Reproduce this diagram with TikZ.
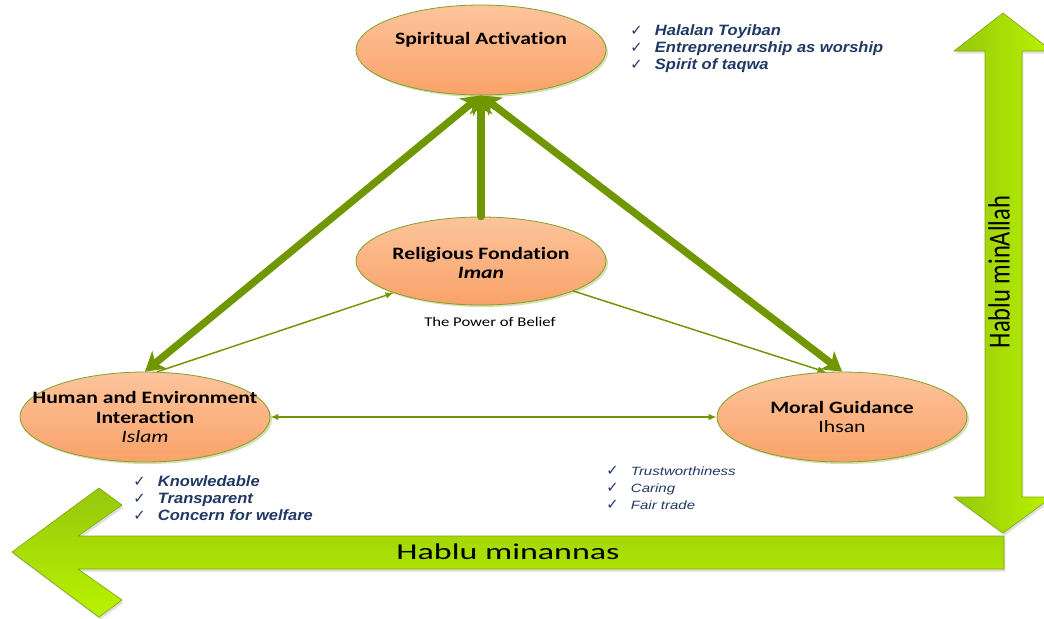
\documentclass[tikz,border=0pt]{standalone}
\usepackage{fontspec}
\setmainfont{Carlito}
\newfontfamily\widefont[FakeStretch=1.25,RawFeature=-liga]{Carlito}
\newfontfamily\bandfont[FakeStretch=1.5]{Carlito}
\newfontfamily\tallfont[FakeStretch=0.8]{Carlito}
\newfontfamily\listfont[FakeStretch=1.1]{Liberation Sans}
\newfontfamily\notefont[FakeStretch=1.25]{Liberation Sans}
\newfontfamily\tickfont{DejaVu Sans}
\usetikzlibrary{shapes.geometric,arrows.meta,shadows}
\definecolor{peachtop}{RGB}{253,196,156}
\definecolor{peachbot}{RGB}{249,162,104}
\definecolor{olivegreen}{RGB}{112,150,0}
\definecolor{blobedge}{RGB}{128,160,40}
\definecolor{limedark}{RGB}{150,200,12}
\definecolor{limelight}{RGB}{186,242,0}
\definecolor{limeedge}{RGB}{128,170,0}
\definecolor{navy}{RGB}{31,56,100}
\newcommand\chk{\makebox[18.5pt][l]{\tickfont\fontsize{11}{10}\selectfont ✓}}
\begin{document}
\begin{tikzpicture}[x=.75pt,y=-.75pt,line join=round,line cap=round,
		blob/.style={ellipse,draw=blobedge,line width=.6pt,top color=peachtop,bottom color=peachbot,inner sep=0pt,minimum width=187.5pt,minimum height=67.5pt,drop shadow={shadow xshift=1.5pt,shadow yshift=-1.5pt,fill=olivegreen,opacity=.3}},
		blobtext/.style={align=center,inner sep=0pt,font=\widefont\bfseries\fontsize{13}{14.6}\selectfont},
		listnote/.style={align=left,inner sep=0pt,anchor=west,text=navy,font=\listfont\bfseries\itshape\fontsize{11.25}{12.75}\selectfont},
		plainnote/.style={align=left,inner sep=0pt,anchor=west,text=navy,font=\notefont\itshape\fontsize{9}{12.75}\selectfont},
		bigarrow/.style={draw=limeedge,line width=.5pt,drop shadow={shadow xshift=1pt,shadow yshift=-2pt,opacity=.25}},
		heavy/.style={draw=olivegreen,line width=5.5pt,>={Stealth[length=14pt,width=17pt,inset=4pt]}},
		slim/.style={draw=olivegreen,line width=1.1pt,>={Latex[length=6pt,width=5pt]}}]
	\useasboundingbox (0,0) rectangle (1044,618);
	\shade[bigarrow,top color=limedark,bottom color=limelight]
	(12,552) -- (99,488) -- (122,505) -- (78,536) -- (1004,536) -- (1004,569) -- (78,569) -- (122,600) -- (99,617) -- cycle;
	\shade[bigarrow,left color=limedark,right color=limelight]
	(1003,13) -- (1052,51) -- (1022,51) -- (1022,497) -- (1052,497) -- (1003,533) -- (954,497) -- (985,497) -- (985,51) -- (954,51) -- cycle;
	\node[font=\bandfont\fontsize{17}{20}\selectfont] (minannas) at (508,552) {Hablu minannas};
	\node[rotate=90,font=\tallfont\fontsize{23}{26}\selectfont] (minallah) at (999,272) {Hablu minAllah};
	\node[blob] (sa) at (481,50) {};
	\node[blob,minimum height=66pt] (rf) at (481,261) {};
	\node[blob] (hei) at (145,417) {};
	\node[blob] (mg) at (842,417) {};
	\node[blobtext] (satext) at (481,40) {Spiritual Activation};
	\node[blobtext] (rftext) at (481,263) {Religious Fondation\\\textit{Iman}};
	\node[blobtext] (heitext) at (hei) {Human and Environment\\Interaction\\{\mdseries\itshape Islam}};
	\node[blobtext] (mgtext) at (mg) {Moral Guidance\\{\mdseries Ihsan}};
	\node[font=\widefont\fontsize{10}{12}\selectfont] (belief) at (490,322) {The Power of Belief};
	\draw[heavy,<->] (hei.north) -- (sa.south);
	\draw[heavy,<->] (mg.north) -- (sa.south);
	\draw[heavy,->] (rf.north) -- (sa.south);
	\draw[slim,->] (hei.75) -- (rf.200);
	\draw[slim,->] (rf.-18) -- (mg.110);
	\draw[slim,<->] (hei.east) -- (mg.west);
	\node[listnote] (salist) at (630,49) {\chk Halalan Toyiban\\\chk Entrepreneurship as worship\\\chk Spirit of taqwa};
	\node[listnote] (heilist) at (133,498) {\chk Knowledable\\\chk Transparent\\\chk Concern for welfare};
	\node[plainnote] (mglist) at (606,488) {\chk Trustworthiness\\\chk Caring\\\chk Fair trade};
\end{tikzpicture}
\end{document}
